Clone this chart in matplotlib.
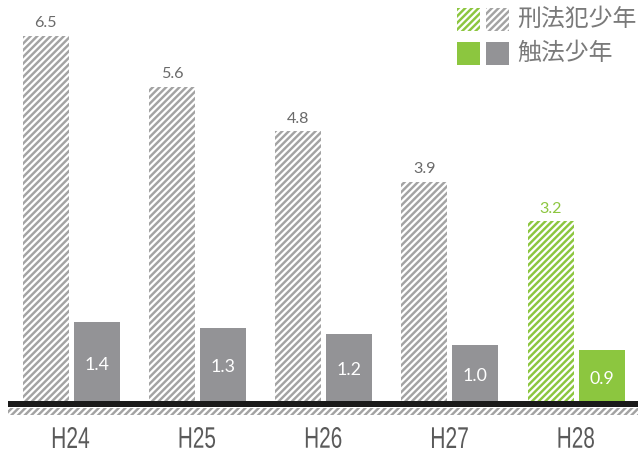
import matplotlib
matplotlib.use("Agg")
import matplotlib.pyplot as plt
from matplotlib.patches import Rectangle, PathPatch
from matplotlib.textpath import TextPath
from matplotlib.font_manager import FontProperties
from matplotlib.transforms import Affine2D
import numpy as np

# 刑法犯少年 / 触法少年 (per 1000 persons), H24-H28
years = ["H24", "H25", "H26", "H27", "H28"]
keihou = [6.5, 5.6, 4.8, 3.9, 3.2]
shokuhou = [1.4, 1.3, 1.2, 1.0, 0.9]
legend_labels = ["刑法犯少年", "触法少年"]

GRAY = "#939396"
HATCH_GRAY = "#a3a3a3"
GREEN = "#8cc63f"

plt.rcParams["hatch.linewidth"] = 2.2

W, H = 640, 450
fig = plt.figure(figsize=(W / 80, H / 80), dpi=80)


def fx(x):
    return x / W


def fy(y):
    return 1 - y / H


# axes: x from 8 to 638 px, baseline at 401 px
ax = fig.add_axes([fx(8), fy(401), fx(630), 401 / H])
scale = 56.15
ax.set_ylim(0, 401 / scale)
step = 126.3
ax.set_xlim(-(71 - 8) / step, -(71 - 8) / step + 630 / step)
ax.axis("off")

x = np.arange(len(years))
bw = 46 / step
off = 25.5 / step
HATCH = "////"

for i in range(len(years)):
    last = i == len(years) - 1
    hc = GREEN if last else HATCH_GRAY
    sc = GREEN if last else GRAY
    ax.bar(x[i] - off, keihou[i], width=bw, color="white", edgecolor=hc,
           hatch=HATCH, linewidth=0)
    ax.bar(x[i] + off, shokuhou[i], width=bw, color=sc, linewidth=0)
    ax.text(x[i] - off, keihou[i] + 0.1, f"{keihou[i]:.1f}", ha="center",
            va="bottom", fontsize=14.5, family="Lato",
            color=GREEN if last else "#6a6a6a")
    ax.text(x[i] + off, shokuhou[i] / 2 - 0.05, f"{shokuhou[i]:.1f}",
            ha="center", va="center", fontsize=16, family="Lato",
            color="white")

# baseline and hatched floor strip
fig.add_artist(Rectangle((fx(8), fy(407)), fx(630), 6 / H,
                         transform=fig.transFigure, color="#1a1a1a", lw=0))
fig.add_artist(Rectangle((fx(8), fy(415)), fx(630), 7 / H,
                         transform=fig.transFigure, facecolor="white",
                         edgecolor=HATCH_GRAY, hatch=HATCH, lw=0))

# year labels, narrow glyphs
fp = FontProperties(family="Liberation Sans")
for i, yr in enumerate(years):
    tp = TextPath((0, 0), yr, size=1, prop=fp)
    ext = tp.get_extents()
    cap = 21.0 / ext.height
    sx, sy = cap * 0.7, cap
    cx = 71 + i * step
    tr = (Affine2D().translate(-(ext.x0 + ext.width / 2), -ext.y0)
          .scale(sx, sy).translate(cx, H - 448))
    fig.add_artist(PathPatch(tp, transform=tr, color="#5a5a5a", lw=0))

# legend
fig.add_artist(Rectangle((fx(457), fy(31)), fx(23), 23 / H,
                         transform=fig.transFigure, facecolor="white",
                         edgecolor=GREEN, hatch=HATCH, lw=0))
fig.add_artist(Rectangle((fx(486), fy(31)), fx(23), 23 / H,
                         transform=fig.transFigure, facecolor="white",
                         edgecolor=HATCH_GRAY, hatch=HATCH, lw=0))
fig.add_artist(Rectangle((fx(457), fy(65)), fx(23), 23 / H,
                         transform=fig.transFigure, color=GREEN, lw=0))
fig.add_artist(Rectangle((fx(486), fy(65)), fx(23), 23 / H,
                         transform=fig.transFigure, color=GRAY, lw=0))
fig.text(fx(517), fy(19), legend_labels[0], ha="left", va="center",
         fontsize=21.5, family="Noto Sans CJK JP", color="#7a7a7a")
fig.text(fx(517), fy(53), legend_labels[1], ha="left", va="center",
         fontsize=21.5, family="Noto Sans CJK JP", color="#7a7a7a")

fig.savefig("out.png", dpi=80)
